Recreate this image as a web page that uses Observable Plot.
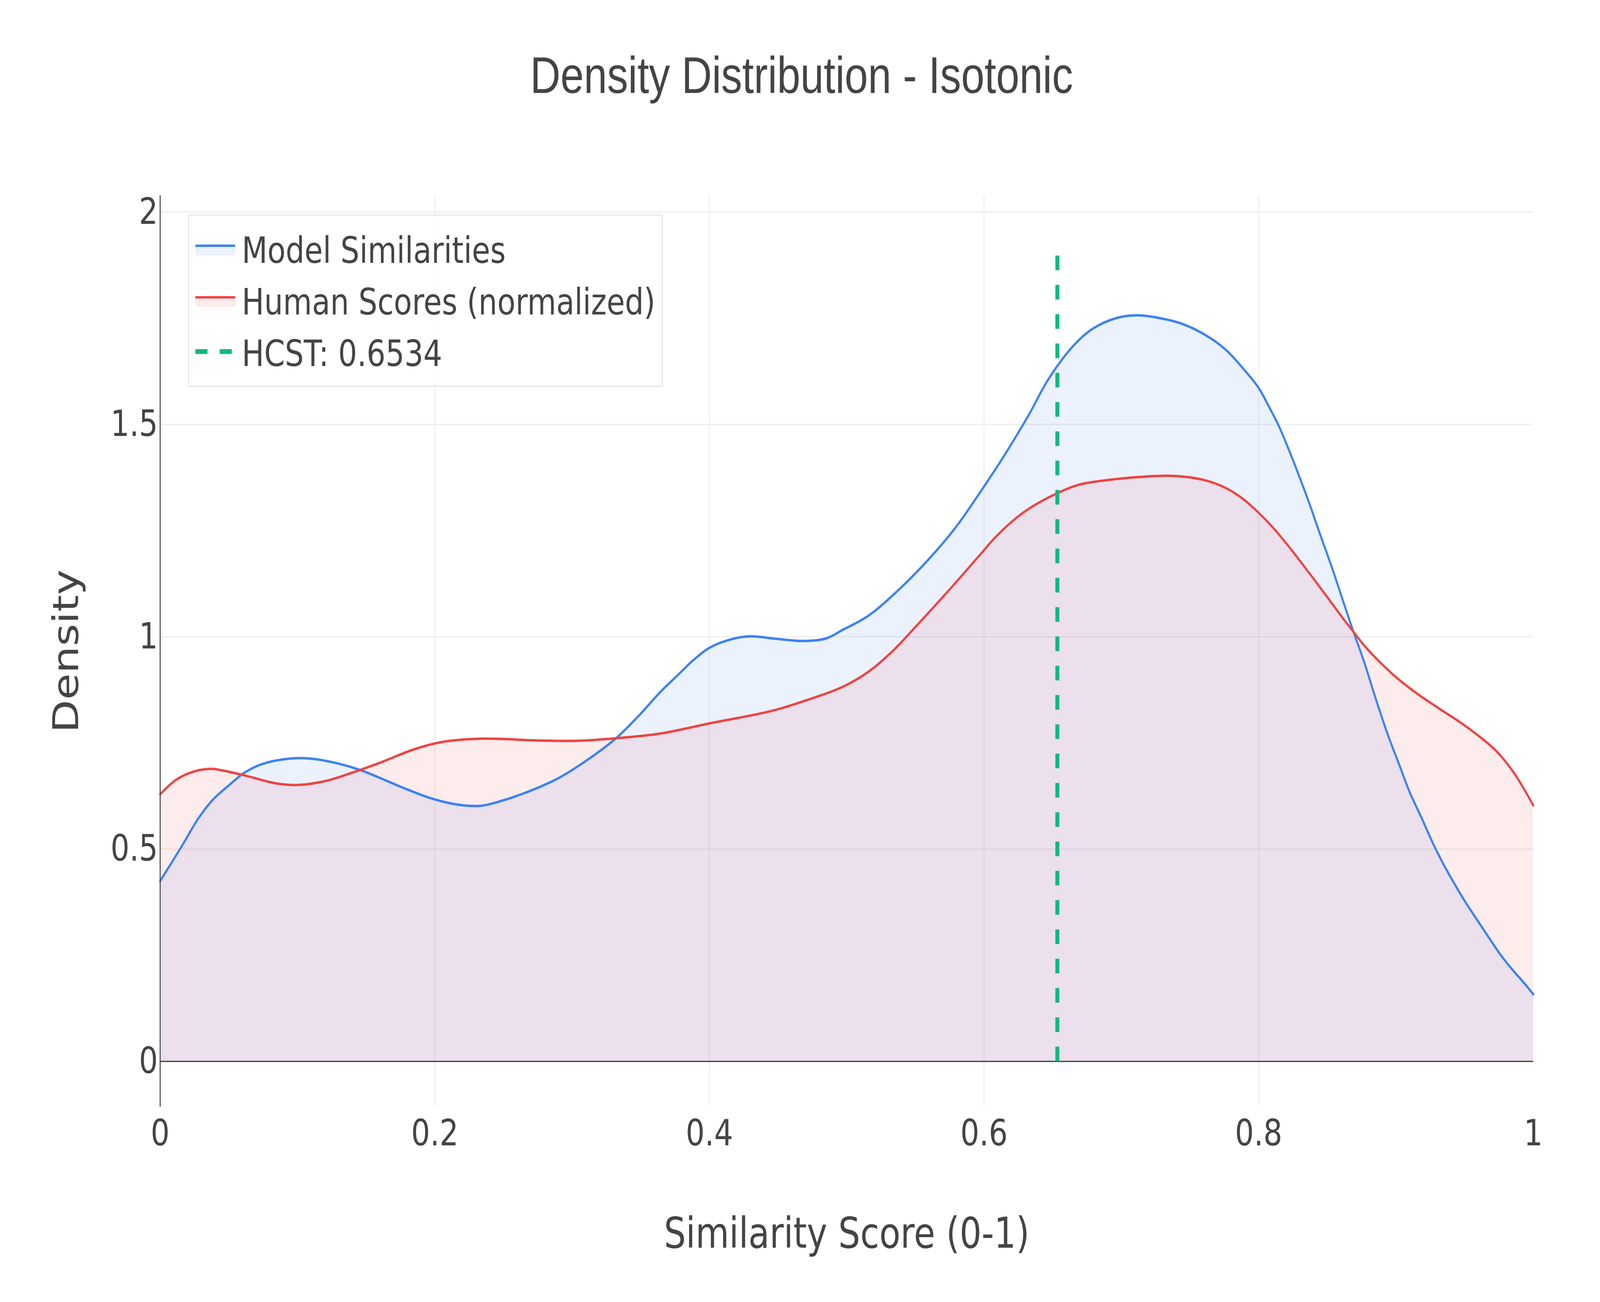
<!DOCTYPE html>
<html>
<head>
<meta charset="utf-8">
<script src="https://cdn.jsdelivr.net/npm/d3@7"></script>
<script src="https://cdn.jsdelivr.net/npm/@observablehq/plot@0.6"></script>
<style>
  html, body { margin: 0; padding: 0; background: #fff; overflow: hidden; }
  #wrap { position: relative; width: 5000px; height: 3333px; overflow: hidden; background: #fff; transform-origin: 0 0; }
  #wrap > svg { position: absolute; left: 0; top: 0; }
  #overlay { position: absolute; left: 0; top: 0; pointer-events: none; }
</style>
</head>
<body>
<div id="wrap"></div>
<script>
// ---- data ----
const titleText = "Density Distribution - Isotonic";
const xLabel = "Similarity Score (0-1)";
const yLabel = "Density";
const seriesNames = ["Model Similarities", "Human Scores (normalized)"];
const seriesColors = ["#3b82f6", "#ef4444"];
const hcst = 0.6534;
const hcstTop = 1.9;
const hcstColor = "#10b981";

const xTicks = [0, 0.2, 0.4, 0.6, 0.8, 1];
const yTicks = [0, 0.5, 1, 1.5, 2];
const xGrid = [0.2, 0.4, 0.6, 0.8];
const yGrid = [0.5, 1, 1.5, 2];

const modelX = [0, 0.015, 0.028, 0.038, 0.05, 0.061, 0.074, 0.094, 0.11, 0.129,
  0.146, 0.159, 0.178, 0.195, 0.211, 0.224, 0.234, 0.247, 0.267, 0.29,
  0.312, 0.332, 0.348, 0.364, 0.378, 0.388, 0.4, 0.417, 0.43, 0.449,
  0.469, 0.485, 0.497, 0.516, 0.537, 0.559, 0.579, 0.599, 0.614, 0.632,
  0.647, 0.665, 0.679, 0.697, 0.712, 0.727, 0.745, 0.763, 0.777, 0.792,
  0.8, 0.807, 0.815, 0.824, 0.836, 0.844, 0.854, 0.862, 0.869, 0.877, 0.885,
  0.894, 0.902, 0.91, 0.919, 0.927, 0.935, 0.943, 0.951, 0.96, 0.968,
  0.976, 0.984, 0.993, 1.0];
const modelY = [0.425, 0.503, 0.573, 0.615, 0.65, 0.679, 0.70, 0.713, 0.713, 0.702,
  0.686, 0.669, 0.643, 0.622, 0.608, 0.602, 0.602, 0.612, 0.634, 0.667,
  0.712, 0.761, 0.812, 0.869, 0.913, 0.944, 0.974, 0.995, 1.001, 0.995,
  0.99, 0.996, 1.016, 1.05, 1.108, 1.18, 1.256, 1.349, 1.423, 1.519,
  1.607, 1.685, 1.725, 1.751, 1.757, 1.751, 1.736, 1.707, 1.673, 1.619,
  1.586, 1.545, 1.494, 1.424, 1.322, 1.248, 1.157, 1.079, 1.012, 0.939, 0.857,
  0.77, 0.702, 0.634, 0.571, 0.513, 0.462, 0.416, 0.373, 0.329, 0.29,
  0.252, 0.219, 0.186, 0.158];

const humanX = [0, 0.012, 0.025, 0.038, 0.044, 0.061, 0.084, 0.1, 0.12, 0.139,
  0.159, 0.185, 0.205, 0.234, 0.273, 0.303, 0.332, 0.364, 0.4, 0.446,
  0.472, 0.497, 0.516, 0.534, 0.552, 0.574, 0.596, 0.61, 0.628, 0.647,
  0.668, 0.69, 0.712, 0.737, 0.759, 0.775, 0.788, 0.8, 0.811, 0.824,
  0.838, 0.851, 0.861, 0.869, 0.877, 0.889, 0.9, 0.915, 0.93, 0.947,
  0.96, 0.973, 0.986, 1.0];
const humanY = [0.629, 0.664, 0.683, 0.689, 0.686, 0.674, 0.655, 0.651, 0.66, 0.679,
  0.702, 0.735, 0.752, 0.76, 0.756, 0.755, 0.761, 0.772, 0.796, 0.826,
  0.852, 0.882, 0.918, 0.968, 1.03, 1.108, 1.189, 1.24, 1.291, 1.328,
  1.357, 1.369, 1.376, 1.379, 1.37, 1.352, 1.326, 1.292, 1.255, 1.204,
  1.145, 1.089, 1.045, 1.012, 0.979, 0.938, 0.905, 0.867, 0.834, 0.798,
  0.767, 0.731, 0.679, 0.603];

const model = modelX.map((x, i) => ({x, y: modelY[i]}));
const human = humanX.map((x, i) => ({x, y: humanY[i]}));

// ---- chart (laid out in the reference's 5000x3333 space) ----
const W = 5000, H = 3333;
const mL = 500, mR = 209, mT = 500, mB = 500;
const ink = "#444";
const gridColor = "#eeeeee";
const thin = 3.125;
const curve = "catmull-rom";

const chart = Plot.plot({
  width: W, height: H,
  marginLeft: mL, marginRight: mR, marginTop: mT, marginBottom: mB,
  style: {fontFamily: "DejaVu Sans", fontSize: "93px", color: ink, background: "#fff", overflow: "visible", maxWidth: "none"},
  x: {domain: [0, 1], label: null},
  y: {domain: [-0.107, 2.039], label: null},
  marks: [
    Plot.gridX(xGrid, {stroke: gridColor, strokeOpacity: 1, strokeWidth: thin}),
    Plot.gridY(yGrid, {stroke: gridColor, strokeOpacity: 1, strokeWidth: thin}),
    Plot.areaY(model, {x: "x", y: "y", fill: seriesColors[0], fillOpacity: 0.1, curve}),
    Plot.areaY(human, {x: "x", y: "y", fill: seriesColors[1], fillOpacity: 0.1, curve}),
    Plot.ruleY([0], {stroke: ink, strokeWidth: thin}),
    Plot.lineY(model, {x: "x", y: "y", stroke: seriesColors[0], strokeWidth: 6.25, curve}),
    Plot.lineY(human, {x: "x", y: "y", stroke: seriesColors[1], strokeWidth: 6.25, curve}),
    Plot.ruleX([0], {stroke: ink, strokeWidth: thin}),
    Plot.ruleX([hcst], {y1: 0, y2: hcstTop, stroke: hcstColor, strokeWidth: 12.5, strokeDasharray: "37.5,37.5"}),
    Plot.axisX(xTicks, {tickSize: 0, tickPadding: 32, fontSize: 93, tickFormat: d => String(d), label: null}),
    Plot.axisY(yTicks, {tickSize: 0, tickPadding: 7, fontSize: 93, tickFormat: d => String(d), label: null}),
    Plot.text([xLabel], {frameAnchor: "bottom", textAnchor: "middle", lineAnchor: "middle", dy: 326, fontSize: 108, fill: ink}),
    Plot.text([yLabel], {frameAnchor: "left", textAnchor: "middle", lineAnchor: "middle", rotate: -90, dx: -292, fontSize: 110, fill: ink})
  ]
});

const wrap = document.getElementById("wrap");
wrap.appendChild(chart);

// ---- title and legend overlay ----
const ns = "http://www.w3.org/2000/svg";
const ov = document.createElementNS(ns, "svg");
ov.setAttribute("id", "overlay");
ov.setAttribute("width", W);
ov.setAttribute("height", H);
function el(tag, attrs, text) {
  const e = document.createElementNS(ns, tag);
  for (const k in attrs) e.setAttribute(k, attrs[k]);
  if (text != null) e.textContent = text;
  ov.appendChild(e);
  return e;
}
el("text", {x: 2505, y: 238, "text-anchor": "middle", "font-family": "Liberation Sans, Arial, sans-serif", "font-size": 131, fill: ink}, titleText);

// legend box
el("rect", {x: 589.5, y: 550.5, width: 1480, height: 438, fill: "rgba(255,255,255,0.7)", stroke: "#e5e5e5", "stroke-width": thin});
const rowBase = [673, 805, 937];
const symX0 = 610.5, symX1 = 735;
seriesNames.forEach((name, i) => {
  const b = rowBase[i];
  el("rect", {x: symX0, y: b - 40, width: symX1 - symX0, height: 21, fill: seriesColors[i], "fill-opacity": 0.1});
  el("line", {x1: symX0, x2: symX1, y1: b - 44, y2: b - 44, stroke: seriesColors[i], "stroke-width": 6.25});
  el("text", {x: 755.5, y: b, "font-family": "DejaVu Sans", "font-size": 93, fill: ink}, name);
});
{
  const b = rowBase[2];
  el("line", {x1: symX0, x2: symX1, y1: b - 37, y2: b - 37, stroke: hcstColor, "stroke-width": 12.5, "stroke-dasharray": "38,38"});
  el("text", {x: 755.5, y: b, "font-family": "DejaVu Sans", "font-size": 93, fill: ink}, "HCST: " + hcst);
}
wrap.appendChild(ov);

// the window is narrower than 5000px: map the 5000x3333 layout onto the whole viewport
function fit() {
  const vw = document.documentElement.clientWidth || window.innerWidth;
  const vh = document.documentElement.clientHeight || window.innerHeight;
  const sx = vw / W, sy = vh / H;
  wrap.style.transform = (Math.abs(sx - 1) < 0.001 && Math.abs(sy - 1) < 0.001) ? "none" : `scale(${sx}, ${sy})`;
}
fit();
window.addEventListener("resize", fit);
</script>
</body>
</html>
